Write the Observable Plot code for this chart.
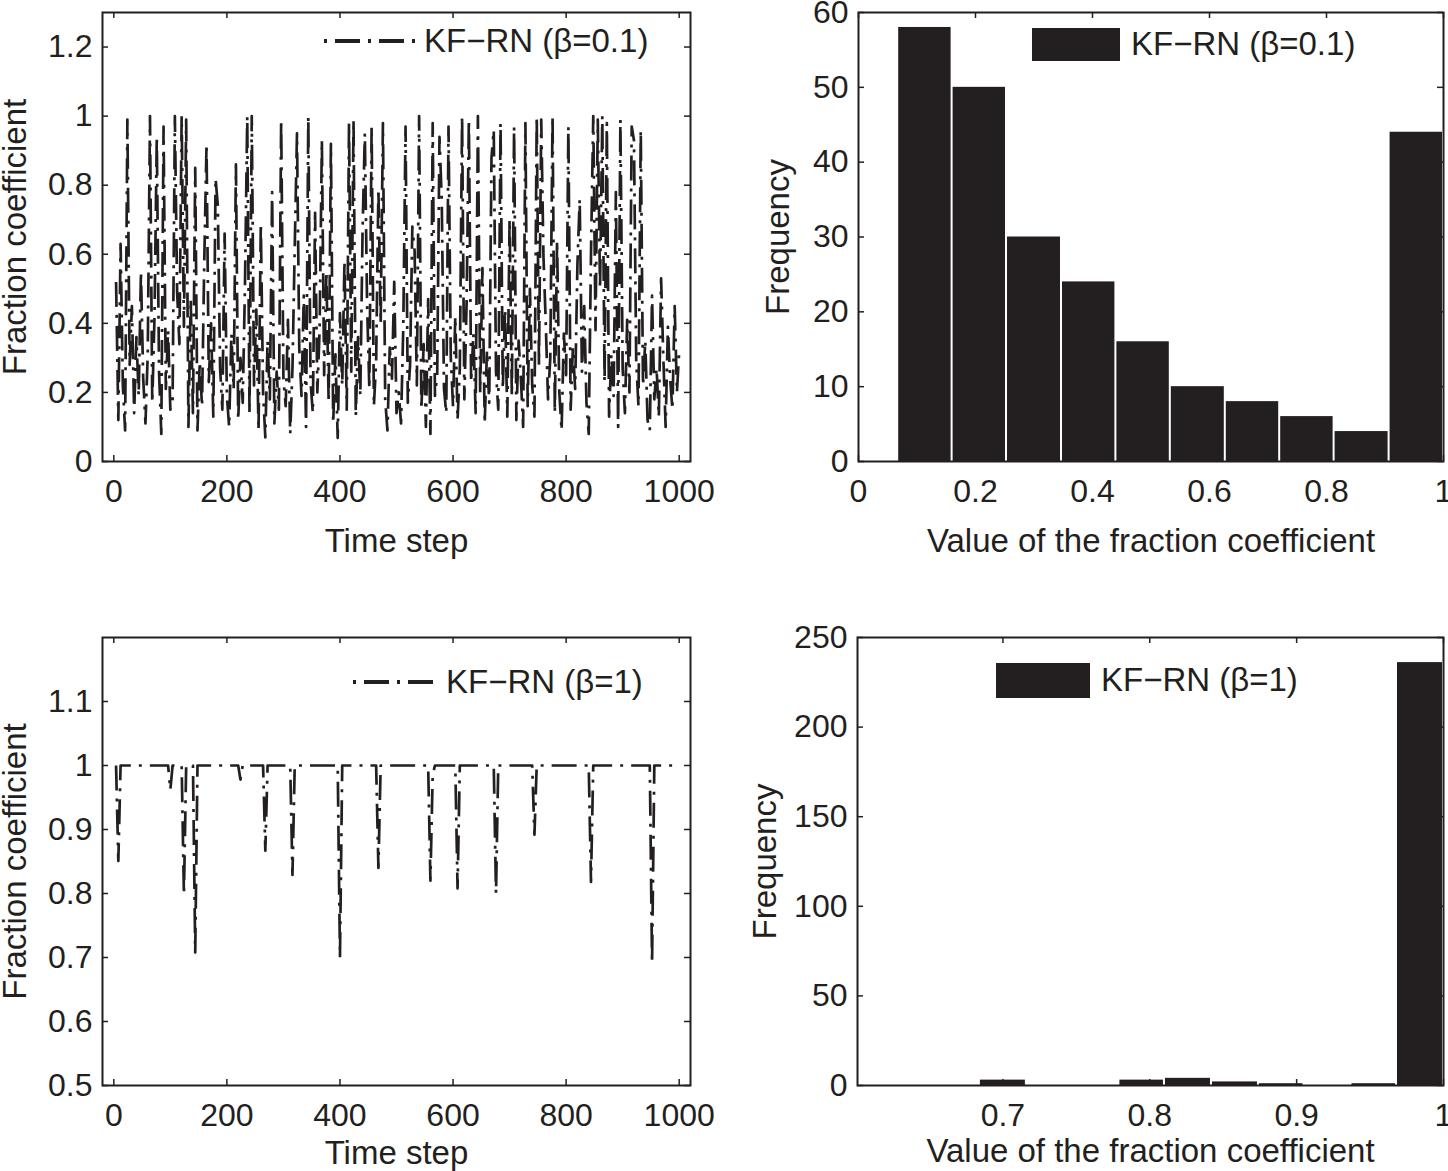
<!DOCTYPE html>
<html>
<head>
<meta charset="utf-8">
<script src="https://cdn.jsdelivr.net/npm/d3@7"></script>
<script src="https://cdn.jsdelivr.net/npm/@observablehq/plot@0.6"></script>
<style>
  body { margin: 0; background: #fff; }
  #wrap { position: relative; width: 1448px; height: 1171px; overflow: hidden; background: #fff;
          font-family: "Liberation Sans", Arial, Helvetica, sans-serif; color: #231f20; }
  .panel { position: absolute; }
  .legend { position: absolute; display: flex; align-items: center; height: 44px;
            font-size: 33px; white-space: nowrap; color: #231f20; }
  .legend svg { display: block; }
</style>
</head>
<body>
<div id="wrap"></div>
<script>
// ---------------- DATA ----------------
// sampled time steps (250 samples over 1000 steps)
const timeSteps = d3.range(4, 1001, 4);

// fraction coefficient, KF-RN (beta = 0.1)
const fracBeta01 = [
  0.52, 0.12, 0.63, 0.22, 0.09, 0.99, 0.28, 0.45, 0.14, 0.36, 0.19, 0.55, 0.24, 0.11, 0.31, 1.0, 0.17, 0.42, 0.94, 0.26, 0.08, 0.97, 0.21, 0.38, 0.15,
  0.18, 1.0, 0.49, 0.34, 1.0, 0.39, 0.99, 0.1, 0.47, 0.14, 0.85, 0.09, 0.29, 0.16, 0.58, 0.92, 0.23, 0.4, 0.13, 0.82, 0.74, 0.27, 0.15, 0.66, 0.19,
  0.1, 0.37, 0.21, 0.86, 0.12, 0.3, 0.17, 0.51, 1.0, 0.14, 1.0, 0.22, 0.44, 0.09, 0.69, 0.2, 0.07, 0.35, 0.18, 0.78, 0.11, 0.26, 0.15, 0.99, 0.24,
  0.16, 0.41, 0.08, 0.27, 0.62, 0.95, 0.33, 0.19, 0.48, 0.1, 1.0, 0.23, 0.14, 0.72, 0.2, 0.38, 0.93, 0.25, 0.55, 0.17, 0.92, 0.11, 0.31, 0.068, 0.43,
  0.22, 0.58, 0.15, 0.98, 0.26, 0.99, 0.13, 0.36, 0.19, 0.67, 0.95, 0.45, 0.21, 0.97, 0.16, 0.29, 0.79, 0.4, 0.98, 0.18, 0.09, 0.33, 0.24, 0.52, 0.14,
  0.2, 0.11, 0.39, 0.97, 0.17, 0.28, 0.68, 0.61, 0.22, 1.0, 0.15, 0.34, 0.1, 0.47, 0.08, 0.98, 0.19, 0.25, 0.94, 0.76, 0.21, 0.14, 0.97, 0.3, 0.16,
  0.42, 0.12, 0.27, 1.0, 0.18, 0.46, 0.99, 0.23, 0.37, 0.14, 1.0, 0.2, 0.56, 0.11, 0.32, 0.17, 0.88, 0.96, 0.26, 0.15, 0.98, 0.21, 0.44, 0.13, 0.7,
  0.19, 0.97, 0.12, 0.35, 0.24, 0.1, 0.98, 0.16, 0.5, 0.22, 0.13, 1.0, 0.28, 0.99, 0.59, 0.4, 0.18, 0.3, 1.0, 0.14, 0.64, 0.2, 0.09, 0.37, 0.25,
  0.97, 0.15, 0.33, 0.21, 0.57, 0.76, 0.26, 0.45, 0.17, 0.08, 0.6, 1.0, 0.38, 0.99, 0.5, 1.0, 0.23, 0.98, 0.13, 0.31, 0.19, 0.78, 0.1, 0.99, 0.27,
  0.14, 0.41, 0.2, 0.97, 0.93, 0.29, 0.16, 0.96, 0.22, 0.35, 0.12, 0.09, 0.48, 0.18, 0.27, 0.13, 0.53, 0.3, 0.1, 0.39, 0.24, 0.15, 0.45, 0.2, 0.32
];

// fraction coefficient, KF-RN (beta = 1)
const fracBeta1 = [
  1, 0.851, 1, 1, 1, 1, 1, 1, 1, 1, 1, 1, 1, 1, 1, 1, 1, 1, 1, 1, 1, 1, 1, 1, 0.962,
  1, 1, 1, 1, 1, 0.798, 1, 1, 1, 1, 0.708, 1, 1, 1, 1, 1, 1, 1, 1, 1, 1, 1, 1, 1, 1,
  1, 1, 1, 1, 1, 0.978, 1, 1, 1, 1, 1, 1, 1, 1, 1, 1, 0.867, 1, 1, 1, 1, 1, 1, 1, 1,
  1, 1, 1, 0.829, 1, 1, 1, 1, 1, 1, 1, 1, 1, 1, 1, 1, 1, 1, 1, 1, 1, 1, 1, 1, 0.70,
  1, 1, 1, 1, 1, 1, 1, 1, 1, 1, 1, 1, 1, 1, 1, 1, 0.84, 1, 1, 1, 1, 1, 1, 1, 1,
  1, 1, 1, 1, 1, 1, 1, 1, 1, 1, 1, 1, 1, 1, 0.82, 0.985, 1, 1, 1, 1, 1, 1, 1, 1, 1,
  1, 0.808, 1, 1, 1, 1, 1, 1, 1, 1, 1, 1, 1, 1, 1, 1, 1, 1, 0.80, 1, 1, 1, 1, 1, 1,
  1, 1, 1, 1, 1, 1, 1, 1, 1, 1, 0.892, 1, 1, 1, 1, 1, 1, 1, 1, 1, 1, 1, 1, 1, 1,
  1, 1, 1, 1, 1, 1, 1, 1, 1, 1, 0.818, 1, 1, 1, 1, 1, 1, 1, 1, 1, 1, 1, 1, 1, 1,
  1, 1, 1, 1, 1, 1, 1, 1, 1, 1, 1, 1, 0.691, 1, 1, 1, 1, 1, 1, 1, 1, 1, 1, 1, 1
];

// histogram (beta = 0.1): bin edges and counts
const histBeta01Edges  = [0.067, 0.160, 0.253, 0.347, 0.440, 0.533, 0.627, 0.720, 0.813, 0.907, 1.0];
const histBeta01Counts = [58, 50, 30, 24, 16, 10, 8, 6, 4, 44];

// histogram (beta = 1): bin edges and counts
const histBeta1Edges  = [0.684, 0.716, 0.747, 0.779, 0.810, 0.842, 0.874, 0.905, 0.937, 0.968, 1.0];
const histBeta1Counts = [3, 0, 0, 3, 4, 2, 1, 0, 1, 236];

// tick values
const timeTicks       = [0, 200, 400, 600, 800, 1000];
const fracTicksTop    = [0, 0.2, 0.4, 0.6, 0.8, 1, 1.2];
const fracTicksBottom = [0.5, 0.6, 0.7, 0.8, 0.9, 1, 1.1];
const valueTicksTop   = [0, 0.2, 0.4, 0.6, 0.8, 1];
const valueTicksBottom= [0.7, 0.8, 0.9, 1];
const freqTicksTop    = [0, 10, 20, 30, 40, 50, 60];
const freqTicksBottom = [0, 50, 100, 150, 200, 250];

const legendTop    = "KF\u2212RN (\u03B2=0.1)";
const legendBottom = "KF\u2212RN (\u03B2=1)";

// ---------------- STYLE ----------------
const INK = "#231f20";
const DASH = "25,8,3,8";
const FONT = "'Liberation Sans', Arial, Helvetica, sans-serif";

function panel(o) {
  const innerW = o.width - o.ml - o.mr;
  const innerH = o.height - o.mt - o.mb;
  const fmt = d => String(d);
  return Plot.plot({
    width: o.width, height: o.height,
    marginLeft: o.ml, marginRight: o.mr, marginTop: o.mt, marginBottom: o.mb,
    x: {domain: o.xDomain},
    y: {domain: o.yDomain},
    style: {fontFamily: FONT, fontSize: "32px", color: INK, background: "transparent", overflow: "visible"},
    marks: [
      ...o.marks,
      Plot.frame({stroke: INK, strokeWidth: 2}),
      Plot.ruleX(o.xTicks, {x: d => d, insetTop: innerH - 6, stroke: INK, strokeWidth: 1.5}),
      Plot.ruleX(o.xTicks, {x: d => d, insetBottom: innerH - 6, stroke: INK, strokeWidth: 1.5}),
      Plot.ruleY(o.yTicks, {y: d => d, insetRight: innerW - 6, stroke: INK, strokeWidth: 1.5}),
      Plot.ruleY(o.yTicks, {y: d => d, insetLeft: innerW - 6, stroke: INK, strokeWidth: 1.5}),
      Plot.axisX(o.xTicks, {tickSize: 0, tickPadding: 18, tickFormat: fmt, label: null, fontSize: 32, fill: INK}),
      Plot.axisY(o.yTicks, {tickSize: 0, tickPadding: 10, tickFormat: fmt, label: null, fontSize: 32, fill: INK}),
      Plot.text([o.xLabel], {frameAnchor: "bottom", dy: o.xLabelDy, fontSize: 33, fill: INK,
        textAnchor: "middle", lineAnchor: "middle"}),
      Plot.text([o.yLabel], {frameAnchor: "left", rotate: -90, dx: o.yLabelDx, fontSize: 33, fill: INK,
        textAnchor: "middle", lineAnchor: "middle"})
    ]
  });
}

function seriesTable(values) {
  return values.map((v, i) => ({t: timeSteps[i], v}));
}
function histTable(edges, counts) {
  return counts.map((c, i) => ({x1: edges[i], x2: edges[i + 1], count: c}));
}

const wrap = document.getElementById("wrap");
function place(node, left, top) {
  node.classList.add("panel");
  node.style.left = left + "px";
  node.style.top = top + "px";
  wrap.appendChild(node);
}

// Top-left: time series beta = 0.1
place(panel({
  width: 724, height: 585, ml: 102, mr: 34, mt: 12, mb: 124,
  xDomain: [-20, 1020], yDomain: [0, 1.3],
  xTicks: timeTicks, yTicks: fracTicksTop,
  xLabel: "Time step", xLabelDy: 80,
  yLabel: "Fraction coefficient", yLabelDx: -87,
  marks: [
    Plot.line(seriesTable(fracBeta01), {x: "t", y: "v", stroke: INK, strokeWidth: 2.7,
      strokeDasharray: DASH, strokeLinecap: "butt", strokeLinejoin: "round"})
  ]
}), 0, 0);

// Top-right: histogram beta = 0.1
place(panel({
  width: 724, height: 585, ml: 134, mr: 5, mt: 12, mb: 124,
  xDomain: [0, 1], yDomain: [0, 60],
  xTicks: valueTicksTop, yTicks: freqTicksTop,
  xLabel: "Value of the fraction coefficient", xLabelDy: 80,
  yLabel: "Frequency", yLabelDx: -80,
  marks: [
    Plot.rectY(histTable(histBeta01Edges, histBeta01Counts), {x1: "x1", x2: "x2", y: "count",
      fill: INK, insetLeft: 1, insetRight: 1})
  ]
}), 724, 0);

// Bottom-left: time series beta = 1
place(panel({
  width: 724, height: 586, ml: 102, mr: 34, mt: 52, mb: 86,
  xDomain: [-20, 1020], yDomain: [0.5, 1.2],
  xTicks: timeTicks, yTicks: fracTicksBottom,
  xLabel: "Time step", xLabelDy: 68,
  yLabel: "Fraction coefficient", yLabelDx: -87,
  marks: [
    Plot.line(seriesTable(fracBeta1), {x: "t", y: "v", stroke: INK, strokeWidth: 2.7,
      strokeDasharray: DASH, strokeLinecap: "butt", strokeLinejoin: "round"})
  ]
}), 0, 585);

// Bottom-right: histogram beta = 1
place(panel({
  width: 724, height: 586, ml: 133, mr: 5, mt: 52, mb: 86,
  xDomain: [0.601, 1.0], yDomain: [0, 250],
  xTicks: valueTicksBottom, yTicks: freqTicksBottom,
  xLabel: "Value of the fraction coefficient", xLabelDy: 66,
  yLabel: "Frequency", yLabelDx: -92,
  marks: [
    Plot.rectY(histTable(histBeta1Edges, histBeta1Counts), {x1: "x1", x2: "x2", y: "count",
      fill: INK, insetLeft: 1, insetRight: 1})
  ]
}), 724, 585);

// ---------------- LEGENDS ----------------
function lineLegend(left, centerY, sampleW, label) {
  const div = document.createElement("div");
  div.className = "legend";
  div.style.left = left + "px";
  div.style.top = (centerY - 22) + "px";
  div.innerHTML =
    `<svg width="${sampleW}" height="10"><line x1="0" y1="5" x2="${sampleW}" y2="5" stroke="${INK}" stroke-width="4" stroke-dasharray="${DASH}" stroke-dashoffset="29"/></svg>` +
    `<span style="margin-left:6px">${label}</span>`;
  wrap.appendChild(div);
}
function boxLegend(left, centerY, boxW, boxH, label) {
  const div = document.createElement("div");
  div.className = "legend";
  div.style.left = left + "px";
  div.style.top = (centerY - 22) + "px";
  div.innerHTML =
    `<svg width="${boxW}" height="${boxH}"><rect x="0" y="0" width="${boxW}" height="${boxH}" fill="${INK}"/></svg>` +
    `<span style="margin-left:11px">${label}</span>`;
  wrap.appendChild(div);
}
lineLegend(320, 41, 98, legendTop);
boxLegend(1032, 44, 88, 33, legendTop);
lineLegend(349, 682, 91, legendBottom);
boxLegend(996, 680, 94, 35, legendBottom);
</script>
</body>
</html>
